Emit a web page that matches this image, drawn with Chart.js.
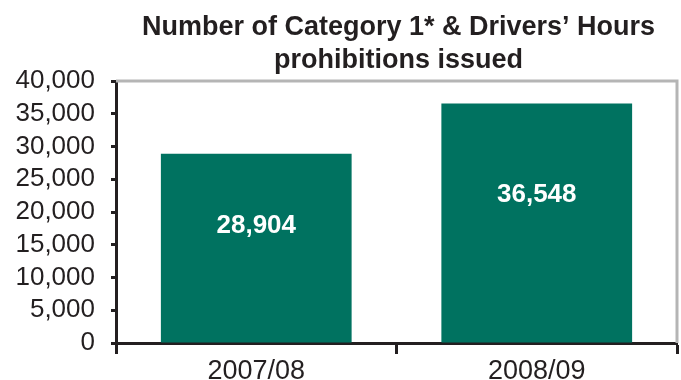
<!DOCTYPE html>
<html lang="en">
<head>
    <meta charset="UTF-8">
    <title>Category 1 & Drivers' Hours prohibitions</title>
    <script src="https://cdn.jsdelivr.net/npm/chart.js@4.4.1/dist/chart.umd.min.js"></script>
    <style>
        body { margin: 0; background: #fff; }
        #wrap { width: 681px; height: 380px; }
    </style>
</head>
<body>
    <div id="wrap">
        <canvas id="prohibChart" width="681" height="380"></canvas>
    </div>

    <script>
        const categories = ['2007/08', '2008/09'];
        const prohibitions = [28904, 36548];
        const titleLines = ['Number of Category 1* & Drivers\u2019 Hours', 'prohibitions issued'];
        const yMin = 0, yMax = 40000, yStep = 5000;

        const ink = '#231f20';
        const barGreen = '#007260';
        const fontFamily = '"Liberation Sans", Arial, sans-serif';

        const fmt = v => v.toLocaleString('en-GB');

        // title centred over the plot area, like the original
        const titlePlugin = {
            id: 'plotTitle',
            afterDraw(chart) {
                const { ctx, chartArea } = chart;
                const cx = (chartArea.left + chartArea.right) / 2 + 2;
                ctx.save();
                ctx.fillStyle = ink;
                ctx.font = 'bold 27px ' + fontFamily;
                ctx.textAlign = 'center';
                ctx.textBaseline = 'alphabetic';
                ctx.fillText(titleLines[0], cx, 35);
                ctx.fillText(titleLines[1], cx, 68);
                ctx.restore();
            }
        };

        // grey frame on top and right of plot area
        const framePlugin = {
            id: 'plotFrame',
            beforeDatasetsDraw(chart) {
                const { ctx, chartArea } = chart;
                ctx.save();
                ctx.strokeStyle = '#b5b5b5';
                ctx.lineWidth = 3;
                ctx.beginPath();
                ctx.moveTo(chartArea.left, chartArea.top);
                ctx.lineTo(chartArea.right, chartArea.top);
                ctx.lineTo(chartArea.right, chartArea.bottom);
                ctx.stroke();
                ctx.restore();
            }
        };

        // white value labels inside the bars
        const valuePlugin = {
            id: 'barValues',
            afterDatasetsDraw(chart) {
                const { ctx } = chart;
                const yScale = chart.scales.y;
                const meta = chart.getDatasetMeta(0);
                ctx.save();
                ctx.fillStyle = '#ffffff';
                ctx.font = 'bold 26px ' + fontFamily;
                ctx.textAlign = 'center';
                ctx.textBaseline = 'middle';
                meta.data.forEach((bar, i) => {
                    const v = prohibitions[i];
                    ctx.fillText(fmt(v), bar.x, yScale.getPixelForValue(v * 0.62));
                });
                ctx.restore();
            }
        };

        const ctx = document.getElementById('prohibChart').getContext('2d');
        new Chart(ctx, {
            type: 'bar',
            data: {
                labels: categories,
                datasets: [{
                    data: prohibitions,
                    backgroundColor: barGreen,
                    borderWidth: 0,
                    barPercentage: 0.68,
                    categoryPercentage: 1.0
                }]
            },
            options: {
                responsive: false,
                animation: false,
                layout: { padding: { top: 81, right: 4, left: 0, bottom: 0 } },
                plugins: {
                    legend: { display: false },
                    title: { display: false },
                    tooltip: { enabled: false }
                },
                scales: {
                    x: {
                        grid: {
                            offset: true,
                            drawOnChartArea: false,
                            tickLength: 11,
                            tickWidth: 3,
                            color: ink
                        },
                        border: { color: ink, width: 3 },
                        ticks: {
                            font: { size: 27, family: fontFamily },
                            color: ink,
                            padding: 1,
                            maxRotation: 0
                        },
                        afterFit: s => { s.height = 37; }
                    },
                    y: {
                        min: yMin,
                        max: yMax,
                        grid: {
                            drawOnChartArea: false,
                            tickLength: 5,
                            tickWidth: 3,
                            color: ink
                        },
                        border: { color: ink, width: 3 },
                        ticks: {
                            stepSize: yStep,
                            autoSkip: false,
                            font: { size: 26, family: fontFamily },
                            color: ink,
                            padding: 16,
                            callback: v => fmt(v)
                        },
                        afterFit: s => { s.width = 116; }
                    }
                }
            },
            plugins: [framePlugin, valuePlugin, titlePlugin]
        });
    </script>
</body>
</html>
